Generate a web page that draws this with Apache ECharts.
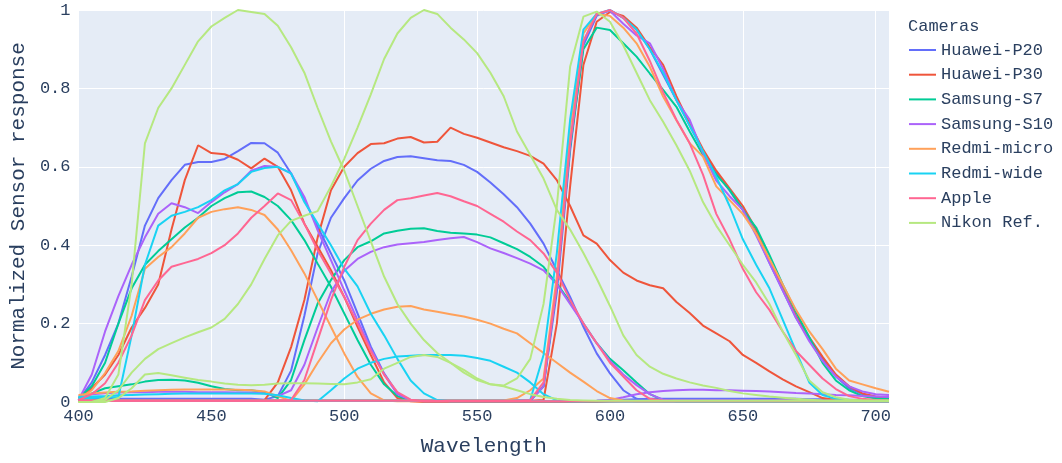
<!DOCTYPE html>
<html>
<head>
<meta charset="utf-8">
<title>Camera sensor response</title>
<script src="https://cdn.jsdelivr.net/npm/echarts@6.0.0/dist/echarts.min.js"></script>
<style>
  html, body { margin: 0; padding: 0; background: #fff; }
  #chart1 { width: 1062px; height: 463px; }
</style>
</head>
<body>
<div id="chart1"></div>
<script>
// wavelength grid (nm)
var wavelengths = [400,405,410,415,420,425,430,435,440,445,
  450,455,460,465,470,475,480,485,490,495,
  500,505,510,515,520,525,530,535,540,545,
  550,555,560,565,570,575,580,585,590,595,
  600,605,610,615,620,625,630,635,640,645,
  650,655,660,665,670,675,680,685,690,695,
  700,705];

var cameras = ['Huawei-P20','Huawei-P30','Samsung-S7','Samsung-S10','Redmi-micro','Redmi-wide','Apple','Nikon Ref.'];
var xTicks = [400, 450, 500, 550, 600, 650, 700];

// Huawei-P20
var p20B = [0.005,0.05,0.12,0.2,0.32,0.45,0.52,0.566,0.605,0.612,
  0.612,0.62,0.64,0.661,0.66,0.636,0.583,0.515,0.447,0.379,
  0.31,0.226,0.141,0.073,0.022,0.005,0.002,0,0,0,
  0,0,0,0,0,0,0,0.001,0.002,0.003,
  0.005,0.006,0.007,0.008,0.008,0.008,0.008,0.008,0.008,0.008,
  0.008,0.008,0.008,0.008,0.008,0.007,0.007,0.006,0.006,0.005,
  0.005,0.005];
var p20G = [0.008,0.008,0.008,0.008,0.008,0.008,0.008,0.008,0.008,0.008,
  0.008,0.008,0.008,0.008,0.006,0.015,0.08,0.22,0.38,0.47,
  0.52,0.565,0.595,0.615,0.625,0.627,0.622,0.617,0.615,0.605,
  0.587,0.56,0.53,0.497,0.455,0.404,0.336,0.268,0.192,0.124,
  0.073,0.03,0.008,0.003,0.002,0.002,0.002,0.002,0.002,0.002,
  0.002,0.002,0.002,0.002,0.002,0.002,0.002,0.002,0.002,0.002,
  0.002,0.002];
var p20R = [0.003,0.003,0.003,0.003,0.003,0.003,0.003,0.003,0.003,0.003,
  0.003,0.003,0.003,0.003,0.003,0.003,0.003,0.003,0.003,0.003,
  0.003,0.003,0.003,0.003,0.003,0.003,0.003,0.003,0.003,0.003,
  0.003,0.003,0.003,0.003,0.005,0.04,0.28,0.64,0.91,0.985,
  1.0,0.98,0.95,0.9,0.835,0.77,0.705,0.64,0.585,0.54,
  0.49,0.43,0.355,0.285,0.215,0.16,0.11,0.065,0.035,0.02,
  0.012,0.01];

// Huawei-P30
var p30B = [0.005,0.035,0.07,0.12,0.19,0.24,0.3,0.44,0.566,0.655,
  0.635,0.632,0.618,0.596,0.621,0.6,0.54,0.455,0.396,0.336,
  0.268,0.192,0.12,0.05,0.01,0.002,0,0,0,0,
  0,0,0,0,0,0,0,0,0,0,
  0.001,0.002,0.002,0.002,0.002,0.002,0.002,0.002,0.002,0.002,
  0.002,0.002,0.002,0.002,0.002,0.002,0.002,0.002,0.002,0.002,
  0.002,0.002];
var p30G = [0.004,0.004,0.004,0.004,0.004,0.004,0.004,0.004,0.004,0.004,
  0.004,0.004,0.004,0.004,0.005,0.05,0.14,0.26,0.42,0.54,
  0.6,0.635,0.658,0.66,0.672,0.676,0.662,0.664,0.7,0.684,
  0.674,0.662,0.65,0.64,0.628,0.608,0.566,0.5,0.425,0.404,
  0.362,0.33,0.31,0.298,0.29,0.255,0.227,0.195,0.175,0.155,
  0.12,0.1,0.078,0.058,0.04,0.025,0.01,0.005,0.003,0.003,
  0.003,0.003];
var p30R = [0.003,0.003,0.003,0.003,0.003,0.003,0.003,0.003,0.003,0.003,
  0.003,0.003,0.003,0.003,0.003,0.003,0.003,0.003,0.003,0.003,
  0.003,0.003,0.003,0.003,0.003,0.003,0.003,0.003,0.003,0.003,
  0.003,0.003,0.003,0.003,0.003,0.005,0.2,0.55,0.86,0.97,
  0.995,0.985,0.955,0.905,0.86,0.78,0.71,0.645,0.59,0.545,
  0.5,0.44,0.36,0.29,0.22,0.165,0.115,0.07,0.04,0.022,
  0.014,0.01];

// Samsung-S7
var s7B = [0.01,0.04,0.1,0.2,0.29,0.35,0.385,0.415,0.445,0.47,
  0.5,0.52,0.535,0.537,0.523,0.5,0.464,0.413,0.353,0.294,
  0.226,0.158,0.095,0.045,0.015,0.004,0.002,0.002,0.002,0.002,
  0.002,0.002,0.002,0.002,0.002,0.002,0.002,0.002,0.002,0.002,
  0.002,0.002,0.002,0.002,0.002,0.002,0.002,0.002,0.002,0.002,
  0.002,0.002,0.002,0.002,0.002,0.002,0.002,0.002,0.002,0.002,
  0.002,0.002];
var s7G = [0.009,0.022,0.035,0.04,0.045,0.052,0.056,0.057,0.055,0.049,
  0.04,0.033,0.03,0.03,0.025,0.01,0.056,0.158,0.251,0.311,
  0.362,0.395,0.41,0.43,0.437,0.442,0.443,0.436,0.432,0.43,
  0.427,0.42,0.405,0.39,0.37,0.345,0.302,0.255,0.2,0.15,
  0.11,0.081,0.05,0.02,0.005,0.002,0.002,0.002,0.002,0.002,
  0.002,0.002,0.002,0.002,0.002,0.002,0.002,0.002,0.002,0.002,
  0.002,0.002];
var s7R = [0.003,0.003,0.003,0.003,0.003,0.003,0.003,0.003,0.003,0.003,
  0.003,0.003,0.003,0.003,0.003,0.003,0.003,0.003,0.003,0.003,
  0.003,0.003,0.003,0.003,0.003,0.003,0.003,0.003,0.003,0.003,
  0.003,0.003,0.003,0.003,0.003,0.04,0.3,0.65,0.9,0.955,
  0.949,0.915,0.881,0.838,0.796,0.753,0.69,0.63,0.58,0.541,
  0.49,0.445,0.375,0.3,0.23,0.165,0.1,0.055,0.03,0.015,
  0.009,0.008];

// Samsung-S10
var s10B = [0.005,0.07,0.18,0.27,0.35,0.42,0.48,0.507,0.497,0.482,
  0.51,0.535,0.556,0.59,0.602,0.6,0.583,0.523,0.438,0.362,
  0.285,0.209,0.135,0.07,0.02,0.004,0.002,0.002,0.002,0.002,
  0.002,0.002,0.002,0.002,0.002,0.002,0.002,0.002,0.002,0.003,
  0.005,0.012,0.02,0.025,0.028,0.03,0.031,0.031,0.03,0.03,
  0.029,0.028,0.027,0.025,0.023,0.022,0.02,0.018,0.017,0.015,
  0.014,0.013];
var s10G = [0.015,0.02,0.022,0.024,0.025,0.025,0.026,0.026,0.026,0.025,
  0.025,0.025,0.024,0.024,0.022,0.015,0.03,0.095,0.19,0.28,
  0.335,0.365,0.383,0.395,0.402,0.405,0.408,0.413,0.418,0.421,
  0.408,0.392,0.38,0.367,0.353,0.336,0.3,0.25,0.2,0.15,
  0.105,0.07,0.043,0.02,0.006,0.003,0.003,0.003,0.003,0.003,
  0.003,0.003,0.003,0.003,0.003,0.003,0.003,0.003,0.003,0.003,
  0.003,0.003];
var s10R = [0.003,0.003,0.003,0.003,0.003,0.003,0.003,0.003,0.003,0.003,
  0.003,0.003,0.003,0.003,0.003,0.003,0.003,0.003,0.003,0.003,
  0.003,0.003,0.003,0.003,0.003,0.003,0.003,0.003,0.003,0.003,
  0.003,0.003,0.003,0.003,0.003,0.04,0.3,0.66,0.92,0.99,
  0.998,0.965,0.935,0.915,0.85,0.77,0.72,0.635,0.565,0.525,
  0.49,0.425,0.355,0.285,0.215,0.155,0.105,0.065,0.04,0.027,
  0.02,0.018];

// Redmi-micro
var rmB = [0.008,0.03,0.074,0.13,0.22,0.34,0.37,0.395,0.43,0.47,
  0.485,0.492,0.497,0.49,0.477,0.44,0.387,0.328,0.26,0.192,
  0.124,0.064,0.022,0.004,0.002,0.002,0.002,0.002,0.002,0.002,
  0.002,0.002,0.002,0.002,0.002,0.002,0.002,0.002,0.002,0.002,
  0.002,0.002,0.002,0.002,0.002,0.002,0.002,0.002,0.002,0.002,
  0.002,0.002,0.002,0.002,0.002,0.002,0.002,0.002,0.002,0.002,
  0.002,0.002];
var rmG = [0.018,0.022,0.024,0.026,0.027,0.029,0.03,0.031,0.032,0.032,
  0.032,0.032,0.031,0.03,0.027,0.015,0.003,0.045,0.1,0.15,
  0.185,0.21,0.225,0.236,0.243,0.245,0.236,0.23,0.224,0.218,
  0.21,0.2,0.187,0.175,0.15,0.125,0.1,0.075,0.052,0.028,
  0.01,0.004,0.002,0.002,0.002,0.002,0.002,0.002,0.002,0.002,
  0.002,0.002,0.002,0.002,0.002,0.002,0.002,0.002,0.002,0.002,
  0.002,0.002];
var rmR = [0.004,0.004,0.004,0.004,0.004,0.004,0.004,0.004,0.004,0.004,
  0.004,0.004,0.004,0.004,0.004,0.004,0.004,0.004,0.004,0.004,
  0.004,0.004,0.004,0.004,0.004,0.004,0.004,0.004,0.004,0.004,
  0.004,0.004,0.004,0.01,0.03,0.06,0.32,0.7,0.94,0.99,
  0.985,0.955,0.915,0.855,0.779,0.719,0.66,0.626,0.55,0.515,
  0.48,0.43,0.365,0.3,0.235,0.18,0.135,0.085,0.055,0.045,
  0.035,0.026];

// Redmi-wide
var rwB = [0.01,0.01,0.012,0.012,0.17,0.35,0.45,0.475,0.485,0.497,
  0.515,0.54,0.556,0.587,0.597,0.6,0.583,0.51,0.455,0.4,
  0.34,0.295,0.225,0.17,0.11,0.055,0.022,0.005,0.002,0.002,
  0.002,0.002,0.002,0.002,0.002,0.002,0.002,0.002,0.002,0.002,
  0.002,0.002,0.002,0.002,0.002,0.002,0.002,0.002,0.002,0.002,
  0.002,0.002,0.002,0.002,0.002,0.002,0.002,0.002,0.002,0.002,
  0.002,0.002];
var rwG = [0.013,0.014,0.015,0.017,0.018,0.019,0.02,0.021,0.022,0.022,
  0.022,0.022,0.022,0.022,0.021,0.017,0.01,0.004,0.002,0.03,
  0.06,0.085,0.1,0.11,0.116,0.118,0.12,0.12,0.12,0.118,
  0.112,0.105,0.09,0.075,0.05,0.02,0.004,0.002,0.002,0.002,
  0.002,0.002,0.002,0.002,0.002,0.002,0.002,0.002,0.002,0.002,
  0.002,0.002,0.002,0.002,0.002,0.002,0.002,0.002,0.002,0.002,
  0.002,0.002];
var rwR = [0.003,0.003,0.003,0.003,0.003,0.003,0.003,0.003,0.003,0.003,
  0.003,0.003,0.003,0.003,0.003,0.003,0.003,0.003,0.003,0.003,
  0.003,0.003,0.003,0.003,0.003,0.003,0.003,0.003,0.003,0.003,
  0.003,0.003,0.003,0.003,0.005,0.12,0.38,0.72,0.95,0.99,
  1.0,0.98,0.95,0.9,0.84,0.77,0.705,0.64,0.575,0.5,
  0.415,0.35,0.29,0.21,0.13,0.05,0.018,0.008,0.005,0.004,
  0.004,0.004];

// Apple
var apB = [0.005,0.02,0.048,0.1,0.17,0.26,0.31,0.345,0.355,0.365,
  0.38,0.4,0.43,0.47,0.5,0.532,0.515,0.455,0.387,0.328,
  0.268,0.2,0.13,0.07,0.025,0.006,0.002,0.002,0.002,0.002,
  0.002,0.002,0.002,0.002,0.002,0.002,0.002,0.002,0.002,0.002,
  0.002,0.002,0.002,0.002,0.002,0.002,0.002,0.002,0.002,0.002,
  0.002,0.002,0.002,0.002,0.002,0.002,0.002,0.002,0.002,0.002,
  0.002,0.002];
var apG = [0.003,0.003,0.003,0.003,0.003,0.003,0.003,0.003,0.003,0.003,
  0.003,0.003,0.003,0.003,0.003,0.003,0.005,0.056,0.158,0.26,
  0.345,0.413,0.455,0.49,0.515,0.52,0.527,0.533,0.525,0.512,
  0.5,0.48,0.46,0.435,0.413,0.379,0.33,0.26,0.2,0.15,
  0.1,0.065,0.03,0.008,0.003,0.003,0.003,0.003,0.003,0.003,
  0.003,0.003,0.003,0.003,0.003,0.003,0.003,0.003,0.003,0.003,
  0.003,0.003];
var apR = [0.003,0.003,0.003,0.003,0.003,0.003,0.003,0.003,0.003,0.003,
  0.003,0.003,0.003,0.003,0.003,0.003,0.003,0.003,0.003,0.003,
  0.003,0.003,0.003,0.003,0.003,0.003,0.003,0.003,0.003,0.003,
  0.003,0.003,0.003,0.003,0.005,0.05,0.3,0.66,0.92,0.99,
  1.0,0.98,0.94,0.87,0.79,0.72,0.66,0.58,0.48,0.415,
  0.34,0.28,0.235,0.18,0.13,0.095,0.06,0.033,0.015,0.008,
  0.005,0.004];

// Nikon Ref.
var nkB = [0,0,0.01,0.07,0.3,0.66,0.75,0.8,0.86,0.92,
  0.958,0.98,1.0,0.995,0.99,0.96,0.905,0.84,0.75,0.665,
  0.59,0.5,0.41,0.32,0.25,0.2,0.158,0.125,0.1,0.075,
  0.056,0.045,0.04,0.03,0.02,0.013,0.008,0.005,0.004,0.003,
  0.003,0.003,0.003,0.003,0.003,0.003,0.003,0.003,0.003,0.003,
  0.003,0.003,0.003,0.003,0.003,0.003,0.003,0.003,0.003,0.003,
  0.003,0.003];
var nkG = [0,0,0.005,0.03,0.075,0.11,0.135,0.15,0.165,0.178,
  0.19,0.212,0.25,0.3,0.365,0.425,0.462,0.475,0.487,0.55,
  0.62,0.7,0.785,0.875,0.94,0.98,1.0,0.99,0.955,0.925,
  0.89,0.84,0.78,0.69,0.63,0.57,0.49,0.44,0.38,0.315,
  0.245,0.17,0.12,0.09,0.072,0.06,0.05,0.042,0.036,0.028,
  0.022,0.018,0.014,0.011,0.008,0.006,0.004,0.003,0.003,0.003,
  0.003,0.003];
var nkR = [0,0,0,0.01,0.035,0.07,0.074,0.068,0.062,0.056,
  0.052,0.047,0.044,0.043,0.044,0.047,0.048,0.048,0.047,0.046,
  0.045,0.05,0.058,0.085,0.1,0.115,0.12,0.115,0.1,0.082,
  0.06,0.045,0.042,0.06,0.11,0.25,0.5,0.855,0.983,0.996,
  0.97,0.91,0.84,0.77,0.715,0.655,0.59,0.51,0.45,0.4,
  0.35,0.305,0.25,0.18,0.12,0.055,0.025,0.012,0.006,0.004,
  0.003,0.003];

var channels = [
  [p20B, p20G, p20R],
  [p30B, p30G, p30R],
  [s7B, s7G, s7R],
  [s10B, s10G, s10R],
  [rmB, rmG, rmR],
  [rwB, rwG, rwR],
  [apB, apG, apR],
  [nkB, nkG, nkR]
];
// plotly default palette
var colors = ['#636EFA','#EF553B','#00CC96','#AB63FA','#FFA15A','#19D3F3','#FF6692','#B6E880'];

var font = '"Liberation Mono", "DejaVu Sans Mono", monospace';
var textColor = '#2a3f5f';

var series = [];
cameras.forEach(function (name, c) {
  channels[c].forEach(function (vals) {
    series.push({
      name: name,
      type: 'line',
      symbol: 'none',
      showSymbol: false,
      silent: true,
      data: wavelengths.map(function (w, i) { return [w, vals[i]]; }),
      lineStyle: { width: 2, color: colors[c] },
      itemStyle: { color: colors[c] }
    });
  });
});

var myChart = echarts.init(document.getElementById('chart1'));
var option = {
  animation: false,
  backgroundColor: '#fff',
  title: {
    text: 'Cameras',
    left: 908,
    top: 18,
    padding: 0,
    textStyle: { fontFamily: font, fontSize: 17, fontWeight: 'normal', color: textColor }
  },
  legend: {
    orient: 'vertical',
    left: 909,
    top: 41,
    padding: 0,
    icon: 'rect',
    itemWidth: 27,
    itemHeight: 2,
    itemGap: 6.7,
    selectedMode: false,
    data: cameras,
    textStyle: { fontFamily: font, fontSize: 17, color: textColor, lineHeight: 18 }
  },
  grid: {
    left: 76, right: 173, top: 10, bottom: 61,
    show: true, backgroundColor: '#E5ECF6', borderWidth: 0
  },
  xAxis: {
    type: 'value',
    min: 400,
    max: 705,
    interval: 50,
    name: 'Wavelength',
    nameLocation: 'middle',
    nameGap: 34,
    nameTextStyle: { fontFamily: font, fontSize: 21, color: textColor },
    axisLine: { show: false },
    axisTick: { show: false },
    axisLabel: {
      fontFamily: font, fontSize: 17, color: textColor, margin: 6,
      showMaxLabel: false,
      formatter: function (v) { return xTicks.indexOf(v) >= 0 ? String(v) : ''; }
    },
    splitLine: { show: true, lineStyle: { color: '#ffffff', width: 1 } }
  },
  yAxis: {
    type: 'value',
    min: 0,
    max: 1,
    interval: 0.2,
    name: 'Normalized Sensor response',
    nameLocation: 'middle',
    nameGap: 46,
    nameTextStyle: { fontFamily: font, fontSize: 21, color: textColor },
    axisLine: { show: false },
    axisTick: { show: false },
    axisLabel: { fontFamily: font, fontSize: 17, color: textColor, margin: 8 },
    splitLine: { show: true, lineStyle: { color: '#ffffff', width: 1 } }
  },
  series: series
};
myChart.setOption(option);
</script>
</body>
</html>
